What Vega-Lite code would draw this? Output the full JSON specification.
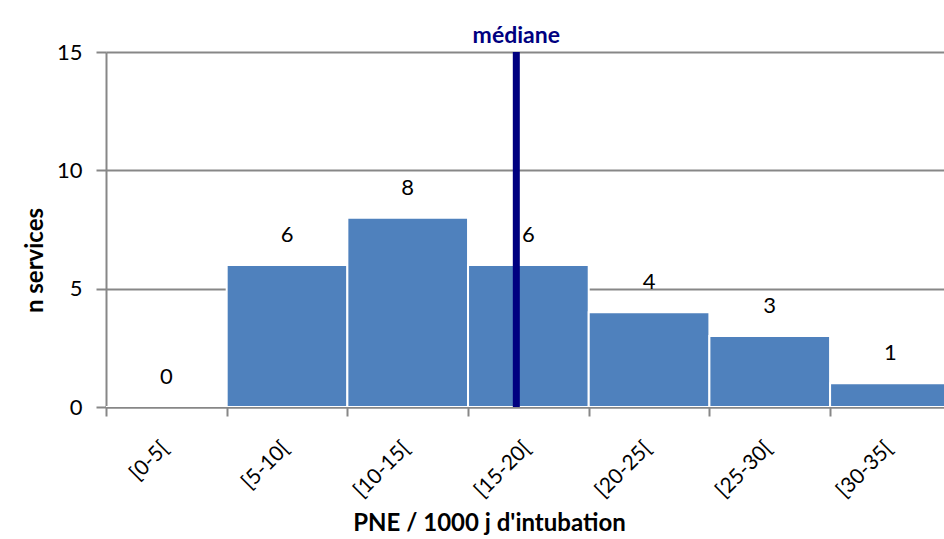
{
  "$schema": "https://vega.github.io/schema/vega-lite/v6.json",
  "autosize": {"type": "none"},
  "width": 838,
  "height": 355,
  "padding": {"left": 106, "top": 52, "right": 0, "bottom": 132},
  "background": "white",
  "config": {
    "font": "Lato",
    "view": {"stroke": null},
    "axis": {"domainColor": "#878787", "domainWidth": 2, "tickColor": "#878787", "tickWidth": 2, "gridColor": "#878787", "gridWidth": 2, "labelColor": "black", "titleColor": "black", "labelFont": "Lato", "titleFont": "Lato"}
  },
  "datasets": {
    "bins": [
      {"start": 0, "end": 5, "mid": 2.5, "classe": "[0-5[", "n": 0},
      {"start": 5, "end": 10, "mid": 7.5, "classe": "[5-10[", "n": 6},
      {"start": 10, "end": 15, "mid": 12.5, "classe": "[10-15[", "n": 8},
      {"start": 15, "end": 20, "mid": 17.5, "classe": "[15-20[", "n": 6},
      {"start": 20, "end": 25, "mid": 22.5, "classe": "[20-25[", "n": 4},
      {"start": 25, "end": 30, "mid": 27.5, "classe": "[25-30[", "n": 3},
      {"start": 30, "end": 35, "mid": 32.5, "classe": "[30-35[", "n": 1}
    ],
    "median": [{"x": 17, "y0": 0, "y1": 15, "label": "médiane"}]
  },
  "layer": [
    {
      "data": {"name": "bins"},
      "mark": {"type": "bar", "color": "#4F81BD", "stroke": "white", "strokeWidth": 2, "clip": true},
      "encoding": {
        "x": {
          "field": "start", "type": "quantitative",
          "scale": {"domain": [0, 34.72], "nice": false, "zero": false},
          "axis": {
            "values": [0, 5, 10, 15, 20, 25, 30],
            "labelExpr": "['[0-5[','[5-10[','[10-15[','[15-20[','[20-25[','[25-30[','[30-35['][floor(datum.value/5)]",
            "labelAngle": -45, "labelAlign": "right", "labelBaseline": "middle",
            "labelFontSize": 21, "labelPadding": 29, "labelOffset": 59, "labelFlush": false, "labelOverlap": false,
            "tickSize": 9, "grid": false,
            "title": "PNE / 1000 j d'intubation", "titleFontSize": 24, "titleFontWeight": "bold",
            "titleX": 383, "titleY": 123, "titleBaseline": "alphabetic"
          }
        },
        "x2": {"field": "end"},
        "y": {
          "field": "n", "type": "quantitative",
          "scale": {"domain": [0, 15], "nice": false},
          "axis": {
            "values": [0, 5, 10, 15], "tickSize": 10, "labelFontSize": 22, "labelPadding": 14,
            "grid": true, "domain": true,
            "title": "n services", "titleFontSize": 24, "titleFontWeight": "bold", "titlePadding": 9,
            "titleY": 208, "titleAnchor": "middle"
          }
        },
        "y2": {"datum": 0}
      }
    },
    {
      "data": {"name": "bins"},
      "mark": {"type": "text", "fontSize": 22, "color": "black", "dy": -30, "clip": true},
      "encoding": {
        "x": {"field": "mid", "type": "quantitative"},
        "y": {"field": "n", "type": "quantitative"},
        "text": {"field": "n", "type": "quantitative"}
      }
    },
    {
      "data": {"name": "median"},
      "mark": {"type": "rule", "color": "#000080", "strokeWidth": 7},
      "encoding": {
        "x": {"field": "x", "type": "quantitative"},
        "y": {"field": "y0", "type": "quantitative"},
        "y2": {"field": "y1"}
      }
    },
    {
      "data": {"name": "median"},
      "mark": {"type": "text", "fontSize": 23, "fontWeight": "bold", "color": "#000080", "dy": -16},
      "encoding": {
        "x": {"field": "x", "type": "quantitative"},
        "y": {"field": "y1", "type": "quantitative"},
        "text": {"field": "label"}
      }
    }
  ]
}
